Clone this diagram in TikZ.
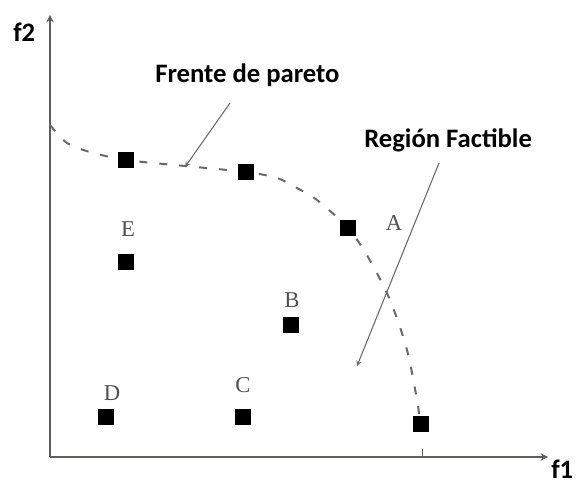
\documentclass[tikz,border=0pt]{standalone}
\usepackage{fontspec}
\setmainfont{Liberation Serif}
\newfontfamily\calib{Carlito}
\usetikzlibrary{arrows}
\definecolor{axisgray}{RGB}{95,95,90}
\definecolor{curvegray}{RGB}{105,105,105}
\definecolor{lettergray}{RGB}{80,80,80}

\tikzset{
    sol/.style={fill=black, minimum size=12pt, inner sep=0pt},
    title/.style={font=\calib\bfseries\fontsize{20}{24}\selectfont, inner sep=0pt, anchor=base west},
    letter/.style={font=\fontsize{17}{19}\selectfont, text=lettergray, inner sep=0pt},
    pointer/.style={->, >=stealth, thick, curvegray}
}

\begin{document}
\begin{tikzpicture}[x=0.75pt, y=-0.75pt]
    \useasboundingbox (0,0) rectangle (577,484);

    % Axes
    \coordinate (origin) at (50,457);
    \coordinate (xend) at (548,457);
    \coordinate (yend) at (50,15);
    \draw[line width=1.4pt, axisgray, ->, >=stealth] (origin) -- (xend);
    \draw[line width=1.4pt, axisgray, ->, >=stealth] (origin) -- (yend);
    \draw[axisgray] (422,457) -- (422,449);
    \node[title] (f1) at (551,478) {f1};
    \node[title] (f2) at (13,42) {f2};

    % Pareto front
    \draw[smooth, curvegray, line width=1.5pt, dash pattern=on 6pt off 9pt] plot coordinates{(50,125) (67,143) (90,152) (126,160) (185,166) (246,172) (277,178) (297,188) (317,200) (348,228) (368,257) (390,300) (407,350) (417,400) (419,414)};

    % Solutions
    \node[sol] (p1) at (126,160) {};
    \node[sol] (p2) at (246,172) {};
    \node[sol] (p3) at (348,228) {};
    \node[sol] (p4) at (421,424) {};
    \node[sol] (pE) at (126,262) {};
    \node[sol] (pB) at (291,325) {};
    \node[sol] (pD) at (106,417) {};
    \node[sol] (pC) at (243,417) {};

    \node[letter] (lE) at (128,229) {E};
    \node[letter] (lA) at (394,223) {A};
    \node[letter] (lB) at (292,300) {B};
    \node[letter] (lD) at (112,393) {D};
    \node[letter] (lC) at (243,385) {C};

    % Labels and pointers
    \node[title] (frente) at (155,83) {Frente de pareto};
    \node[title] (region) at (364,148) {Región Factible};
    \coordinate (frenteTail) at (230,103);
    \coordinate (frenteTip) at (185,167);
    \coordinate (regionTail) at (439,163);
    \coordinate (regionTip) at (357,366);
    \draw[pointer] (frenteTail) -- (frenteTip);
    \draw[pointer] (regionTail) -- (regionTip);

\end{tikzpicture}
\end{document}
